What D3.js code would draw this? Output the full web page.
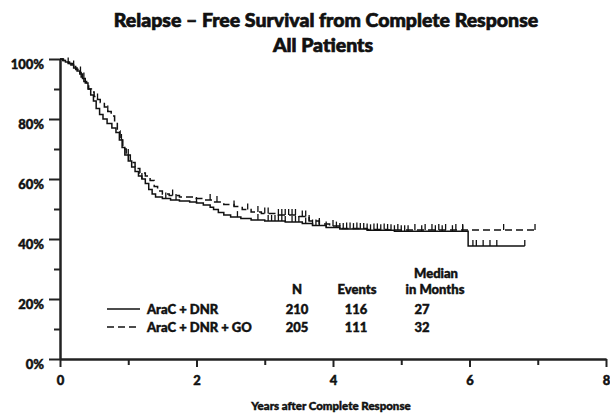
<!DOCTYPE html>
<html>
<head>
<meta charset="utf-8">
<script src="https://cdn.jsdelivr.net/npm/d3@7"></script>
<style>
  body { margin: 0; background: #fff; }
  text { font-family: Lato, "DejaVu Sans", sans-serif; font-weight: 900; fill: #111; stroke: #111; stroke-width: 0.45px; }
</style>
</head>
<body>
<div id="chart"></div>
<script>
// data: Kaplan-Meier steps [years, % relapse-free]
const stepsDnr = [[0,100],[0.04,99.5],[0.08,99],[0.12,98.5],[0.16,98],[0.2,97],[0.25,96],[0.29,95],[0.33,93.5],[0.37,92],[0.41,90],[0.45,88],[0.49,86],[0.53,83.5],[0.58,81.5],[0.63,80],[0.69,78.5],[0.76,77],[0.82,75.5],[0.87,73],[0.91,70.5],[0.95,68],[1.0,66],[1.05,64],[1.1,62.5],[1.15,61],[1.2,60],[1.25,58.5],[1.3,56.5],[1.35,55],[1.4,54],[1.5,53.5],[1.62,53],[1.75,52.7],[1.9,52.3],[2.0,52],[2.1,51.3],[2.2,50.6],[2.25,49.8],[2.32,48.8],[2.4,48],[2.5,47.3],[2.65,46.8],[2.8,46.3],[3.0,46],[3.3,45.7],[3.55,45.2],[3.7,44.5],[3.9,43.8],[4.1,43.3],[4.5,42.9],[4.9,42.6],[5.98,37.7]];
const endDnr = 6.81;
const censorDnr = [0.12,0.35,0.9,1.2,1.55,1.7,2.0,2.6,2.9,3.05,3.1,3.15,3.2,3.25,3.3,3.4,3.45,3.5,3.6,3.7,3.75,3.8,3.9,4.05,4.1,4.15,4.3,4.4,4.45,4.55,4.7,4.85,4.9,5.0,5.05,5.1,5.3,5.5,5.6,5.75,5.9,6.05,6.1,6.2,6.3,6.4,6.81];

const stepsGo = [[0,100],[0.05,99.5],[0.1,99],[0.14,98.5],[0.18,97.5],[0.23,96.5],[0.27,95.5],[0.31,94],[0.35,92.5],[0.39,91],[0.42,90],[0.46,89],[0.5,87.5],[0.55,86.5],[0.59,85.5],[0.65,84],[0.7,82.5],[0.75,81],[0.8,79],[0.84,76],[0.88,73],[0.92,70],[0.97,68],[1.03,65.5],[1.1,63.5],[1.17,62],[1.25,61],[1.32,59.5],[1.38,57.5],[1.43,56],[1.5,55],[1.6,54.5],[1.75,54],[1.95,53.5],[2.1,53],[2.25,52.3],[2.4,51.5],[2.55,50.8],[2.67,49.8],[2.8,49],[2.95,48.5],[3.2,48],[3.5,47.5],[3.65,46],[3.8,45],[3.95,44.3],[4.1,43.5],[4.5,43.2],[4.8,43]];
const endGo = 6.96;
const censorGo = [0.2,0.3,0.55,0.7,1.0,1.65,2.2,2.3,2.55,2.75,2.9,3.0,3.05,3.2,3.25,3.3,3.35,3.4,3.45,3.55,3.6,3.65,3.8,4.0,4.2,4.25,4.35,4.5,4.6,4.65,4.75,4.8,4.95,5.2,5.35,5.45,5.55,5.65,5.8,5.9,6.5,6.96];

const groups = ["AraC + DNR", "AraC + DNR + GO"];
const nPatients = [210, 205];
const nEvents = [116, 111];
const medianMonths = [27, 32];

const xMajor = [0, 2, 4, 6, 8];
const xMinor = [1, 3, 5, 7];
const yMajor = [0, 20, 40, 60, 80, 100];
const yMinor = [10, 30, 50, 70, 90];

let width = 610;
let height = 416;

let svg = d3.select("#chart").append("svg")
  .attr("width", width)
  .attr("height", height);

let x = d3.scaleLinear().domain([0, 8]).range([60, 606]);
let y = d3.scaleLinear().domain([0, 100]).range([359, 59]);

// title
svg.append("text").attr("x", 326).attr("y", 27).attr("text-anchor", "middle")
  .style("font-size", "19.5px").style("stroke-width", "0.7px").text("Relapse \u2013 Free Survival from Complete Response");
svg.append("text").attr("x", 323).attr("y", 52).attr("text-anchor", "middle")
  .style("font-size", "19.5px").style("stroke-width", "0.7px").text("All Patients");

// axes
function styleAxis(g) {
  g.selectAll("path, line").attr("stroke", "#222").attr("stroke-width", 2);
  g.selectAll("text").style("font-size", "13px").attr("fill", "#111");
}

svg.append("g").attr("transform", `translate(0,${y(0)})`)
  .call(d3.axisBottom(x).tickValues(xMinor).tickSize(6).tickSizeOuter(0).tickFormat(""))
  .call(styleAxis);
svg.append("g").attr("transform", `translate(0,${y(0)})`)
  .call(d3.axisBottom(x).tickValues(xMajor).tickSize(8).tickSizeOuter(0).tickPadding(9))
  .call(styleAxis);

svg.append("g").attr("transform", `translate(${x(0)},0)`)
  .call(d3.axisLeft(y).tickValues(yMinor).tickSize(6).tickSizeOuter(0).tickFormat(""))
  .call(styleAxis);
svg.append("g").attr("transform", `translate(${x(0)},0)`)
  .call(d3.axisLeft(y).tickValues(yMajor).tickSize(11).tickSizeOuter(0).tickPadding(5).tickFormat(d => d + "%"))
  .call(styleAxis)
  .selectAll("text").attr("dy", "0.7em");

svg.append("text").attr("x", 331).attr("y", 410).attr("text-anchor", "middle")
  .style("font-size", "11.5px").text("Years after Complete Response");

// step curves
function stepPoints(steps, end) {
  let pts = steps.map(d => [d[0], d[1]]);
  pts.push([end, steps[steps.length - 1][1]]);
  return pts;
}
function survAt(steps, t) {
  let s = 100;
  steps.forEach(d => { if (d[0] <= t) s = d[1]; });
  return s;
}
let line = d3.line().x(d => x(d[0])).y(d => y(d[1])).curve(d3.curveStepAfter);

let curves = [
  { steps: stepsDnr, end: endDnr, censor: censorDnr, dash: null },
  { steps: stepsGo, end: endGo, censor: censorGo, dash: "7,4" },
];

let plot = svg.append("g").classed("curves", true);
curves.forEach(c => {
  plot.append("path")
    .attr("d", line(stepPoints(c.steps, c.end)))
    .attr("fill", "none")
    .attr("stroke", "#111")
    .attr("stroke-width", 1.5)
    .attr("stroke-dasharray", c.dash);
  plot.selectAll(null).data(c.censor).enter().append("line")
    .attr("x1", d => x(d)).attr("x2", d => x(d))
    .attr("y1", d => y(survAt(c.steps, d)))
    .attr("y2", d => y(survAt(c.steps, d)) - 6)
    .attr("stroke", "#111")
    .attr("stroke-width", 1.3);
});

// legend / summary table
let legend = svg.append("g").classed("legend", true);
let rowY = [309, 327];
groups.forEach((g, i) => {
  legend.append("line").attr("x1", 107).attr("x2", 140).attr("y1", rowY[i]).attr("y2", rowY[i])
    .attr("stroke", "#111").attr("stroke-width", 1.5)
    .attr("stroke-dasharray", curves[i].dash);
  legend.append("text").attr("x", 147).attr("y", rowY[i] + 4.5).style("font-size", "13px").text(g);
  legend.append("text").attr("x", 297).attr("y", rowY[i] + 4.5).attr("text-anchor", "middle").style("font-size", "13px").text(nPatients[i]);
  legend.append("text").attr("x", 356).attr("y", rowY[i] + 4.5).attr("text-anchor", "middle").style("font-size", "13px").text(nEvents[i]);
  legend.append("text").attr("x", 422).attr("y", rowY[i] + 4.5).attr("text-anchor", "middle").style("font-size", "13px").text(medianMonths[i]);
});
legend.append("text").attr("x", 297).attr("y", 293.5).attr("text-anchor", "middle").style("font-size", "13px").text("N");
legend.append("text").attr("x", 357).attr("y", 293.5).attr("text-anchor", "middle").style("font-size", "13px").text("Events");
legend.append("text").attr("x", 436).attr("y", 277.5).attr("text-anchor", "middle").style("font-size", "13px").text("Median");
legend.append("text").attr("x", 435).attr("y", 293.5).attr("text-anchor", "middle").style("font-size", "13px").text("in Months");
</script>
</body>
</html>
